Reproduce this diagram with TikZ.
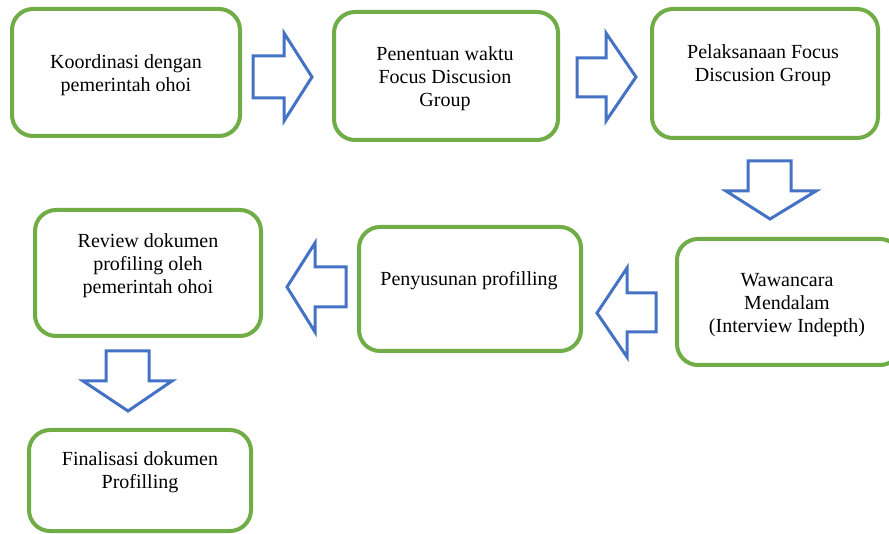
\documentclass[tikz,border=0pt]{standalone}
\usepackage{fontspec}
\setmainfont{Liberation Serif}
\definecolor{boxgreen}{HTML}{70AD47}
\definecolor{arrblue}{HTML}{4472C4}
\begin{document}
\begin{tikzpicture}[x=1pt,y=-1pt,
  box/.style={draw=boxgreen, line width=4pt, rounded corners=21pt, fill=white, inner sep=0pt},
  lbl/.style={align=center, anchor=base, inner sep=0pt, font=\fontsize{20}{23}\selectfont},
  blockarrow/.style={draw=arrblue, line width=3pt, fill=white, line join=miter}]
\clip (0,0) rectangle (889,534);
\fill[white] (0,0) rectangle (889,534);
% boxes
\node[box, minimum width=228pt, minimum height=127pt] (b1) at (126,72.5) {};
\node[box, minimum width=224pt, minimum height=128pt] (b2) at (446,76) {};
\node[box, minimum width=226pt, minimum height=129pt] (b3) at (765,73.5) {};
\node[box, minimum width=224pt, minimum height=126pt] (b4) at (789,302) {};
\node[box, minimum width=222pt, minimum height=124pt] (b5) at (470,289) {};
\node[box, minimum width=226pt, minimum height=126pt] (b6) at (148,273) {};
\node[box, minimum width=222pt, minimum height=101pt] (b7) at (140,480.5) {};
% labels (base anchor = baseline of last line)
\node[lbl] (t1) at (126,92) {Koordinasi dengan\\pemerintah ohoi};
\node[lbl] (t2) at (445,106.5) {Penentuan waktu\\Focus Discusion\\Group};
\node[lbl] (t3) at (763,82) {Pelaksanaan Focus\\Discusion Group};
\node[lbl] (t4) at (787,333) {Wawancara\\Mendalam\\(Interview Indepth)};
\node[lbl] (t5) at (469,286) {Penyusunan profilling};
\node[lbl] (t6) at (148,293.5) {Review dokumen\\profiling oleh\\pemerintah ohoi};
\node[lbl] (t7) at (140,488.5) {Finalisasi dokumen\\Profilling};
% block arrows
\draw[blockarrow] (253,56) -- (284,56) -- (284,33) -- (312,77) -- (284,121) -- (284,98) -- (253,98) -- cycle;
\draw[blockarrow] (577,58) -- (606,58) -- (606,33) -- (636,77) -- (606,121) -- (606,97) -- (577,97) -- cycle;
\draw[blockarrow] (748,161) -- (791,161) -- (791,191) -- (816,191) -- (770,219) -- (726,191) -- (748,191) -- cycle;
\draw[blockarrow] (656,293) -- (627,293) -- (627,268) -- (597,313) -- (627,357) -- (627,332) -- (656,332) -- cycle;
\draw[blockarrow] (346,267) -- (315,267) -- (315,243) -- (287,287) -- (315,332) -- (315,307) -- (346,307) -- cycle;
\draw[blockarrow] (106,351) -- (149,351) -- (149,381) -- (172,381) -- (128,411) -- (83,381) -- (106,381) -- cycle;
\end{tikzpicture}
\end{document}
